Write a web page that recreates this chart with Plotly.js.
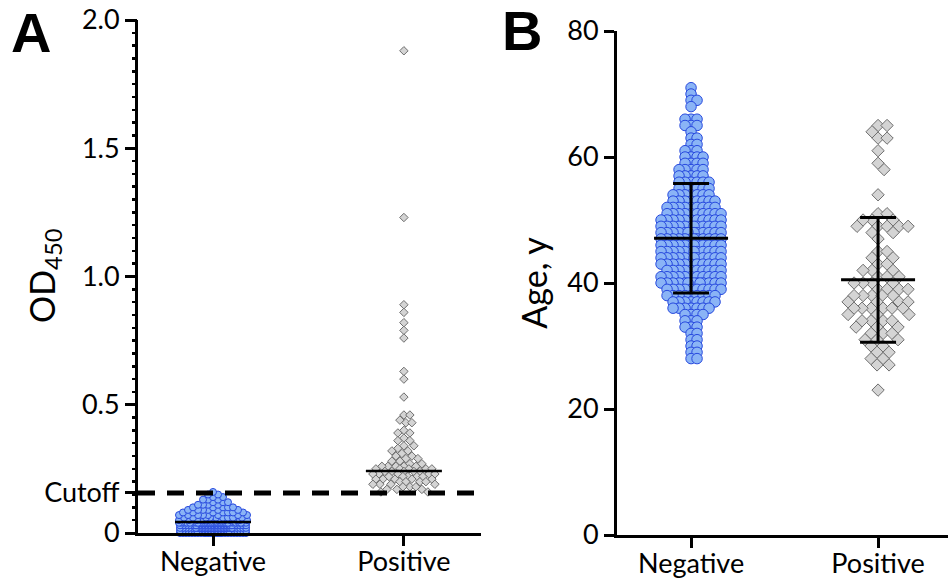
<!DOCTYPE html>
<html><head><meta charset="utf-8">
<script src="https://cdn.plot.ly/plotly-3.0.1.min.js"></script>
<style>html,body{margin:0;padding:0;background:#fff}#chart{width:948px;height:581px}</style>
</head><body><div id="chart"></div>
<script>
// ---------- data ----------
const categories = ['Negative', 'Positive'];

// Panel A: OD450 (value / number of specimens)
const odNegValues = [0.00, 0.01, 0.02, 0.03, 0.04, 0.05, 0.06, 0.07, 0.08, 0.09, 0.10, 0.11, 0.12, 0.13, 0.14, 0.15, 0.16];
const odNegCounts = [35,   45,   48,   48,   45,   12,   10,   8,    7,    6,    5,    4,    3,    3,    2,    2,    1];
const odPosValues = [1.88, 1.23, 0.89, 0.86, 0.82, 0.79, 0.76, 0.63, 0.60, 0.53, 0.46, 0.44, 0.43, 0.40, 0.39, 0.37, 0.36, 0.34, 0.33, 0.32, 0.31, 0.30, 0.29, 0.28, 0.27, 0.26, 0.25, 0.24, 0.23, 0.22, 0.21, 0.20, 0.19, 0.18, 0.17, 0.16];
const odPosCounts = [1,    1,    1,    1,    1,    1,    1,    1,    1,    1,    2,    1,    2,    1,    2,    1,    2,    2,    1,    2,    1,    2,    2,    2,    2,    5,    5,    5,    5,    5,    5,    4,    4,    3,    3,    2];
const odMedians = [0.043, 0.242];
const odCutoff = 0.156;
const odTickVals = [0, odCutoff, 0.5, 1.0, 1.5, 2.0];
const odTickText = ['0', 'Cutoff', '0.5', '1.0', '1.5', '2.0'];

// Panel B: age in years (value / number of persons)
const ageNegValues = [71, 70, 69, 68, 66, 65, 64, 63, 62, 61, 60, 59, 58, 57, 56, 55, 54, 53, 52, 51, 50, 49, 48, 47, 46, 45, 44, 43, 42, 41, 40, 39, 38, 37, 36, 35, 34, 33, 32, 31, 30, 29, 28];
const ageNegCounts = [1,  1,  2,  1,  3,  3,  1,  2,  2,  3,  4,  4,  5,  5,  6,  6,  7,  8,  9,  10, 11, 12, 13, 12, 12, 12, 12, 11, 10, 11, 14, 10, 9,  8,  7,  4,  3,  3,  2,  2,  2,  2,  2];
const agePosValues = [65, 64, 63, 61, 59, 58, 54, 51, 50, 49, 48, 47, 45, 44, 43, 42, 41, 40, 39, 38, 37, 36, 35, 34, 33, 32, 31, 30, 29, 28, 27, 23];
const agePosCounts = [2,  1,  2,  1,  1,  1,  1,  2,  3,  5,  2,  1,  2,  2,  2,  3,  3,  4,  4,  5,  4,  6,  3,  4,  3,  3,  3,  2,  2,  2,  2,  1];
const ageMeans = [47.1, 40.5];
const ageSDs = [8.7, 9.9];

// ---------- layout geometry ----------
const W = 948, H = 581;
const axA = {x0: 138, x1: 481, y0: 533, y1: 20, xr: [-0.393, 1.404], yr: [0, 2]};
const axB = {x0: 617, x1: 948, y0: 535, y1: 31, xr: [-0.396, 1.374], yr: [0, 80]};

function expand(vals, counts) {
  const out = [];
  vals.forEach((v, i) => { for (let k = 0; k < counts[i]; k++) out.push(v); });
  return out;
}

// simple beeswarm in pixel space -> x offsets in data units
function swarm(values, center, ax, minDist, maxHalf) {
  const pxY = (ax.y0 - ax.y1) / (ax.yr[1] - ax.yr[0]);
  const pxX = (ax.x1 - ax.x0) / (ax.xr[1] - ax.xr[0]);
  const order = values.map((v, i) => i).sort((a, b) => values[b] - values[a]);
  const placed = [];
  const xs = new Array(values.length);
  const cands = [0];
  for (let k = 1; k <= maxHalf; k++) { cands.push(k); cands.push(-k); }
  order.forEach(i => {
    const y = values[i] * pxY;
    let chosen = null, best = -1, bestX = 0;
    for (const cx of cands) {
      let md = Infinity;
      for (const p of placed) {
        const dy = p[1] - y;
        if (Math.abs(dy) >= minDist) continue;
        const d = Math.hypot(p[0] - cx, dy);
        if (d < md) md = d;
      }
      if (md >= minDist) { chosen = cx; break; }
      if (md > best + 0.3) { best = md; bestX = cx; }
    }
    if (chosen === null) chosen = bestX;
    placed.push([chosen, y]);
    xs[i] = center + chosen / pxX;
  });
  return xs;
}

const odNeg = expand(odNegValues, odNegCounts);
const odPos = expand(odPosValues, odPosCounts);
const ageNeg = expand(ageNegValues, ageNegCounts);
const agePos = expand(agePosValues, agePosCounts);

const blueFill = 'rgb(138,180,246)', blueLine = 'rgb(38,72,222)';
const greyFill = 'rgb(212,212,212)', greyLine = 'rgb(110,110,110)';

// Plotly draws 'line-ew' with half-length 1.4 * size / 2
const LINE_K = 1.4;

const traces = [
  {x: swarm(odNeg, 0, axA, 5, 34), y: odNeg, xaxis: 'x', yaxis: 'y', type: 'scatter', mode: 'markers',
   marker: {symbol: 'circle', size: 7, color: blueFill, line: {color: blueLine, width: 1}}, cliponaxis: false, hoverinfo: 'y'},
  {x: swarm(odPos, 1, axA, 6, 31), y: odPos, xaxis: 'x', yaxis: 'y', type: 'scatter', mode: 'markers',
   marker: {symbol: 'diamond', size: 6.5, color: greyFill, line: {color: greyLine, width: 1}}, cliponaxis: false, hoverinfo: 'y'},
  {x: [0, 1], y: odMedians, xaxis: 'x', yaxis: 'y', type: 'scatter', mode: 'markers',
   marker: {symbol: 'line-ew', size: 76 / LINE_K, line: {color: 'black', width: 2.5}}, cliponaxis: false, hoverinfo: 'y'},
  {x: swarm(ageNeg, 0, axB, 5.5, 31), y: ageNeg, xaxis: 'x2', yaxis: 'y2', type: 'scatter', mode: 'markers',
   marker: {symbol: 'circle', size: 10.5, color: blueFill, line: {color: blueLine, width: 1}}, cliponaxis: false, hoverinfo: 'y'},
  {x: swarm(agePos, 1, axB, 8.5, 31), y: agePos, xaxis: 'x2', yaxis: 'y2', type: 'scatter', mode: 'markers',
   marker: {symbol: 'diamond', size: 9.5, color: greyFill, line: {color: greyLine, width: 1}}, cliponaxis: false, hoverinfo: 'y'},
  {x: [0, 1], y: ageMeans, xaxis: 'x2', yaxis: 'y2', type: 'scatter', mode: 'markers',
   marker: {symbol: 'line-ew', size: 74 / LINE_K, line: {color: 'black', width: 3}},
   error_y: {type: 'data', array: ageSDs, visible: true, color: 'black', thickness: 3, width: 18},
   cliponaxis: false, hoverinfo: 'y'},
  // carrier for the minor-tick axis of panel A
  {x: [0], y: [0], xaxis: 'x', yaxis: 'y3', type: 'scatter', mode: 'none', hoverinfo: 'skip'}
];

const tickFont = {family: 'Lato, "Open Sans", sans-serif', size: 27, color: 'black'};
const titleFont = {family: 'Lato, "Open Sans", sans-serif', size: 34, color: 'black'};

function dom(a, b, total) { return [a / total, b / total]; }

const baseX = {showgrid: false, zeroline: false, showline: true, linewidth: 3, linecolor: 'black',
  ticks: 'outside', ticklen: 10, tickwidth: 3, tickcolor: 'black', tickfont: tickFont, ticklabelstandoff: -7,
  tickmode: 'array', tickvals: [0, 1], ticktext: categories, fixedrange: true};
const baseY = {showgrid: false, zeroline: false, showline: true, linewidth: 3, linecolor: 'black',
  ticks: 'outside', ticklen: 10, tickwidth: 3, tickcolor: 'black', tickfont: tickFont, fixedrange: true};

const layout = {
  width: W, height: H,
  margin: {l: 0, r: 0, t: 0, b: 0, pad: 0},
  paper_bgcolor: 'white', plot_bgcolor: 'white',
  showlegend: false,
  xaxis: Object.assign({}, baseX, {domain: dom(axA.x0, axA.x1, W), range: axA.xr, anchor: 'y'}),
  yaxis: Object.assign({}, baseY, {domain: [(H - axA.y0) / H, (H - axA.y1) / H], range: axA.yr, anchor: 'x',
    tickmode: 'array', tickvals: odTickVals, ticktext: odTickText}),
  yaxis3: {overlaying: 'y', anchor: 'x', side: 'left', range: axA.yr, showline: false, showgrid: false, zeroline: false,
    tickmode: 'linear', tick0: 0, dtick: 0.05, ticks: 'outside', ticklen: 5, tickwidth: 2.5, tickcolor: 'black',
    showticklabels: false, fixedrange: true},
  xaxis2: Object.assign({}, baseX, {domain: dom(axB.x0, axB.x1, W), range: axB.xr, anchor: 'y2'}),
  yaxis2: Object.assign({}, baseY, {domain: [(H - axB.y0) / H, (H - axB.y1) / H], range: axB.yr, anchor: 'x2',
    tickmode: 'linear', tick0: 0, dtick: 20,
    title: {text: 'Age, y', font: titleFont, standoff: 10}}),
  shapes: [
    {type: 'line', xref: 'x domain', yref: 'y', x0: 0, x1: 1, y0: odCutoff, y1: odCutoff,
     line: {color: 'black', width: 5, dash: '17px,12px'}, layer: 'above'}
  ],
  annotations: [
    {text: '<b>A</b>', xref: 'paper', yref: 'paper', x: 31 / W, y: 1 - 32 / H, xanchor: 'center', yanchor: 'middle', showarrow: false,
     font: {family: '"Liberation Sans", Arial, sans-serif', size: 56, color: 'black'}},
    {text: '<b>B</b>', xref: 'paper', yref: 'paper', x: 522 / W, y: 1 - 31 / H, xanchor: 'center', yanchor: 'middle', showarrow: false,
     font: {family: '"Liberation Sans", Arial, sans-serif', size: 56, color: 'black'}},
    {text: 'OD<sub>450</sub>', xref: 'paper', yref: 'paper', x: 44 / W, y: 1 - 276 / H, xanchor: 'center', yanchor: 'middle', showarrow: false,
     textangle: -90, font: titleFont}
  ]
};

Plotly.newPlot('chart', traces, layout, {staticPlot: true, displayModeBar: false});
</script>
</body></html>
